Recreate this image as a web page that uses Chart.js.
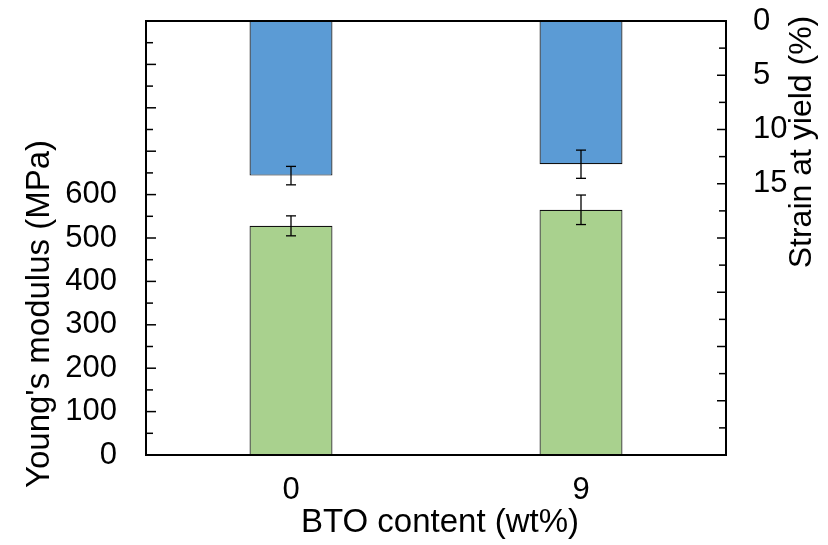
<!DOCTYPE html>
<html>
<head>
<meta charset="utf-8">
<script src="https://cdn.jsdelivr.net/npm/chart.js@4.4.1/dist/chart.umd.min.js"></script>
<style>
  html, body { margin: 0; padding: 0; background: #fff; }
  #wrap { width: 828px; height: 545px; }
</style>
</head>
<body>
<div id="wrap"><canvas id="chart"></canvas></div>
<script>
// ================= DATA =================
const categories = ['0', '9'];
const modulus = [528, 565];
const modulusErr = [23, 34];
const strain = [14.25, 13.2];
const strainErr = [0.85, 1.3];
const modulusLabels = [0, 100, 200, 300, 400, 500, 600];
const strainLabels = [0, 5, 10, 15];

const FONT = '"Liberation Sans", Arial, sans-serif';
const SIZE = 31;
const TITLE_SIZE = 33;

// ================= FRAME, INWARD TICKS, ERROR BARS =================
const framePlugin = {
    id: 'frame',
    afterDatasetsDraw(chart) {
        const { ctx, chartArea: a, scales } = chart;
        ctx.save();
        ctx.strokeStyle = '#000';
        ctx.lineWidth = 1.5;

        function seg(x1, y1, x2, y2) {
            ctx.beginPath();
            ctx.moveTo(x1, y1);
            ctx.lineTo(x2, y2);
            ctx.stroke();
        }

        // error bars
        chart.data.datasets.forEach((ds, i) => {
            const meta = chart.getDatasetMeta(i);
            const sc = scales[ds.yAxisID];
            meta.data.forEach((bar, j) => {
                const v = ds.data[j], e = ds.errors[j];
                const y1 = sc.getPixelForValue(v - e);
                const y2 = sc.getPixelForValue(v + e);
                ctx.lineWidth = 1.3;
                seg(bar.x, y1, bar.x, y2);
                seg(bar.x - 5, y1, bar.x + 5, y1);
                seg(bar.x - 5, y2, bar.x + 5, y2);
            });
        });

        ctx.lineWidth = 1.5;
        scales.y.ticks.forEach(t => {
            const y = scales.y.getPixelForValue(t.value);
            const len = t.value % 100 === 0 ? 10 : 7;
            seg(a.left, y, a.left + len, y);
        });
        scales.y2.ticks.forEach(t => {
            const y = scales.y2.getPixelForValue(t.value);
            const len = t.value % 5 === 0 ? 9 : 7;
            seg(a.right, y, a.right - len, y);
        });

        ctx.lineWidth = 2;
        ctx.strokeRect(a.left, a.top, a.right - a.left, a.bottom - a.top);
        ctx.restore();
    }
};

const titlePlugin = {
    id: 'titles',
    afterDraw(chart) {
        const ctx = chart.ctx;
        ctx.save();
        ctx.fillStyle = '#000';
        ctx.font = TITLE_SIZE + 'px ' + FONT;
        ctx.textAlign = 'center';
        ctx.textBaseline = 'middle';

        ctx.fillText('BTO content (wt%)', 440, 523);

        ctx.save();
        ctx.translate(40, 314);
        ctx.rotate(-Math.PI / 2);
        ctx.fillText("Young's modulus (MPa)", 0, 0);
        ctx.restore();

        ctx.font = '32px ' + FONT;
        ctx.save();
        ctx.translate(802, 142);
        ctx.rotate(-Math.PI / 2);
        ctx.fillText('Strain at yield (%)', 0, 0);
        ctx.restore();

        ctx.restore();
    }
};

function noPad(s) {
    s.paddingTop = 0;
    s.paddingBottom = 0;
    s.paddingLeft = 0;
    s.paddingRight = 0;
}

// ================= CHART =================
const ctx = document.getElementById('chart').getContext('2d');

new Chart(ctx, {
    type: 'bar',
    data: {
        labels: categories,
        datasets: [
            {
                label: "Young's modulus",
                data: modulus,
                errors: modulusErr,
                yAxisID: 'y',
                backgroundColor: '#A9D18E',
                borderColor: '#111',
                borderWidth: 1.2,
                grouped: false,
                barPercentage: 0.286,
                categoryPercentage: 1
            },
            {
                label: 'Strain at yield',
                data: strain,
                errors: strainErr,
                yAxisID: 'y2',
                backgroundColor: '#5B9BD5',
                borderColor: '#111',
                borderWidth: 1.2,
                grouped: false,
                barPercentage: 0.286,
                categoryPercentage: 1
            }
        ]
    },
    options: {
        responsive: true,
        maintainAspectRatio: false,
        animation: false,
        layout: { padding: { top: 21, left: 0, right: 0, bottom: 0 } },
        plugins: {
            legend: { display: false },
            tooltip: { enabled: false }
        },
        scales: {
            x: {
                grid: { display: false },
                border: { display: false },
                ticks: {
                    color: '#000',
                    font: { family: FONT, size: SIZE },
                    padding: 9
                },
                afterFit: s => { noPad(s); s.height = 90; }
            },
            y: {
                position: 'left',
                min: 0,
                max: 1000,
                grid: { display: false, drawTicks: false },
                border: { display: false },
                ticks: {
                    stepSize: 50,
                    maxTicksLimit: 100,
                    autoSkip: false,
                    padding: 29,
                    color: '#000',
                    font: { family: FONT, size: SIZE },
                    callback: v => modulusLabels.includes(v) ? String(v) : ''
                },
                afterFit: s => { noPad(s); s.width = 146; }
            },
            y2: {
                position: 'right',
                min: 0,
                max: 40,
                reverse: true,
                grid: { display: false, drawTicks: false },
                border: { display: false },
                ticks: {
                    stepSize: 2.5,
                    maxTicksLimit: 100,
                    autoSkip: false,
                    padding: 27,
                    color: '#000',
                    font: { family: FONT, size: SIZE },
                    callback: v => strainLabels.includes(v) ? String(v) : ''
                },
                afterFit: s => { noPad(s); s.width = 102; }
            }
        }
    },
    plugins: [framePlugin, titlePlugin]
});
</script>
</body>
</html>
